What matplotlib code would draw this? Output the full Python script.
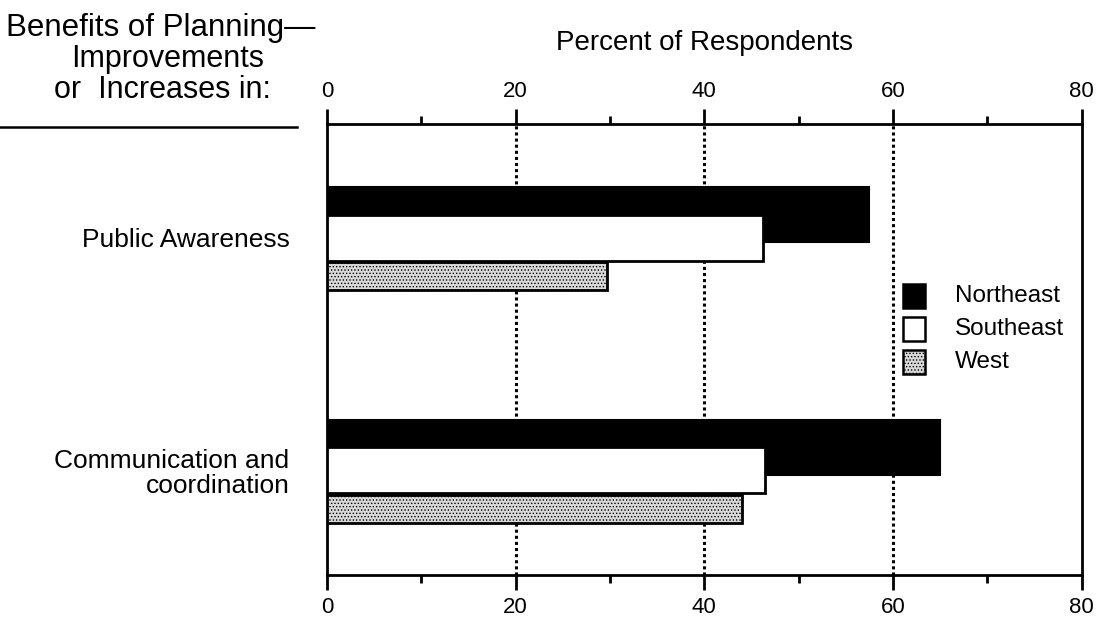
import numpy as np
import matplotlib.pyplot as plt
from matplotlib.patches import Rectangle

plt.rcParams['font.family'] = ['Liberation Sans', 'DejaVu Sans']
plt.rcParams['hatch.linewidth'] = 0.6

# data
categories = ["Public Awareness", "Communication and\ncoordination"]
regions = ["Northeast", "Southeast", "West"]
northeast = [57.5, 65.0]
southeast = [46.2, 46.4]
west = [29.7, 44.0]
xticks = [0, 20, 40, 60, 80]

fig = plt.figure(figsize=(11, 6.43), dpi=100)
ax = fig.add_axes([0.2973, 0.1058, 0.686, 0.7014])

y = np.arange(len(categories))
ax.barh(y - 0.099, northeast, height=0.236, color='black', edgecolor='black', linewidth=1.5, zorder=3)
ax.barh(y, southeast, height=0.197, color='white', edgecolor='black', linewidth=2, zorder=4)
ax.barh(y + 0.165, west, height=0.12, color='#d9d9d9', edgecolor='black', linewidth=2,
        hatch='.....', zorder=4)

ax.set_xlim(0, 80)
ax.set_ylim(1.45, -0.49)

# dotted grid
for g in [20, 40, 60]:
    ax.axvline(g, color='black', linestyle=(0, (1, 1)), linewidth=2.2, zorder=2)

for s in ax.spines.values():
    s.set_linewidth(2)

ax.set_xticks(xticks)
ax.set_xticks([10, 30, 50, 70], minor=True)
ax.tick_params(axis='x', which='major', top=True, labeltop=True, bottom=True, labelbottom=True,
               direction='out', length=11, width=2, labelsize=16, pad=5)
ax.tick_params(axis='x', which='minor', top=True, bottom=True, direction='out', length=6, width=2)
ax.set_yticks(y)
ax.set_yticklabels(categories, fontsize=19, ha='right', linespacing=1.05)
ax.tick_params(axis='y', length=0, pad=27)
ax.xaxis.set_label_position('top')
ax.set_xlabel("Percent of Respondents", fontsize=20, labelpad=22)

# header at upper left
fig.text(0.005, 0.957, "Benefits of Planning\u2014", fontsize=22.5, ha='left', va='center')
fig.text(0.152, 0.908, "Improvements", fontsize=22, ha='center', va='center')
fig.text(0.148, 0.860, "or  Increases in:", fontsize=22, ha='center', va='center')
fig.add_artist(plt.Line2D([0.0, 0.27], [0.803, 0.803], color='black', linewidth=1.8))

# legend
fills = [dict(facecolor='black'), dict(facecolor='white'), dict(facecolor='#d9d9d9', hatch='.....')]
for i, (name, f) in enumerate(zip(regions, fills)):
    yy = 0.5397 - i * 0.0513
    fig.add_artist(Rectangle((0.821, yy - 0.018), 0.020, 0.036, edgecolor='black',
                             linewidth=1.8, transform=fig.transFigure, **f))
    fig.text(0.868, yy, name, fontsize=17.5, ha='left', va='center')

fig.savefig("out.png", dpi=100)
